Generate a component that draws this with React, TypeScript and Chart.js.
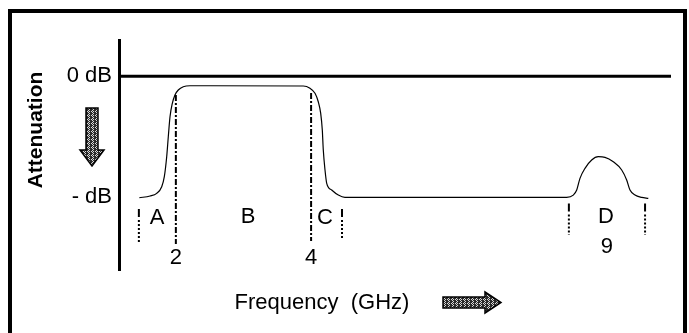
import React, { useEffect, useRef } from 'react';
import { Chart, registerables } from 'chart.js';

Chart.register(...registerables);

// Schematic frequency position (0–100 across the plot) and attenuation (0 dB = 0, "- dB" = -10)
const curveX = [3.68, 5.62, 6.83, 7.74, 8.21, 8.64, 8.93, 9.24, 9.66, 10.14, 10.74, 11.65, 12.86, 33.39, 34.6, 35.51, 36.1, 36.54, 36.83, 37.01, 37.32, 37.63, 38.53, 39.73, 40.94, 81.1, 82.3, 82.92, 83.51, 84.42, 85.63, 86.83, 88.04, 89.55, 91.07, 91.97, 92.57, 93.48, 94.69, 95.89];
const curveY = [-10.03, -9.89, -9.67, -9.12, -8.29, -6.64, -4.99, -3.34, -2.23, -1.54, -1.13, -0.86, -0.78, -0.8, -0.99, -1.4, -2.1, -3.06, -4.44, -6.09, -7.74, -8.84, -9.39, -9.81, -10.0, -10.0, -9.81, -9.39, -8.43, -7.6, -6.91, -6.64, -6.69, -7.06, -7.74, -8.57, -9.39, -9.81, -10.0, -10.08];

// 0 dB reference line
const refLineX = [0, 100];
const refLineY = [0, 0];

// y tick labels
const yTickValues = [0, -10];
const yTickLabels = ['0 dB', '- dB'];

// vertical band markers
const markerX = [3.6, 10.3, 34.8, 40.4, 81.5, 95.3];
const markerTop = [-10.96, -1.54, -1.38, -10.96, -10.5, -10.5];
const markerBottom = [-13.69, -13.85, -13.6, -13.5, -13.1, -13.1];
const markerStyle = ['dot', 'dashdot', 'dashdot', 'dot', 'dot', 'dot'];

// band labels
const regionLabels = ['A', 'B', 'C', 'D'];
const regionX = [6.9, 23.4, 37.3, 88.2];
const regionY = [-11.7, -11.62, -11.7, -11.62];

// frequency labels (GHz)
const freqLabels = ['2', '4', '9'];
const freqX = [10.3, 34.8, 88.4];
const freqY = [-15.0, -15.0, -14.1];

const FONT = '"Liberation Sans", Arial, sans-serif';

function makePattern(ctx: CanvasRenderingContext2D) {
  const c = document.createElement('canvas');
  c.width = 4;
  c.height = 4;
  const p = c.getContext('2d')!;
  p.fillStyle = '#2a2a2a';
  p.fillRect(0, 0, 4, 4);
  p.fillStyle = '#d8d8d8';
  [[0, 0], [2, 0], [1, 1], [3, 1], [0, 2], [2, 2], [1, 3], [3, 3]].forEach(([a, b], i) => {
    if (i % 2 === 0) p.fillRect(a, b, 1, 1);
  });
  p.fillRect(1, 1, 1, 1);
  p.fillRect(3, 3, 1, 1);
  return ctx.createPattern(c, 'repeat');
}

const decor = {
  id: 'decor',
  afterDatasetsDraw(chart: any) {
    const { ctx, scales } = chart;
    const x = scales.x;
    const y = scales.y;
    ctx.save();
    ctx.fillStyle = '#000';
    ctx.textAlign = 'center';
    ctx.textBaseline = 'middle';
    ctx.font = `22px ${FONT}`;
    regionLabels.forEach((t, i) => {
      ctx.fillText(t, x.getPixelForValue(regionX[i]), y.getPixelForValue(regionY[i]));
    });
    freqLabels.forEach((t, i) => {
      ctx.fillText(t, x.getPixelForValue(freqX[i]), y.getPixelForValue(freqY[i]));
    });
    ctx.fillText('Frequency  (GHz)', 322, 303);

    ctx.save();
    ctx.translate(36, 130);
    ctx.rotate(-Math.PI / 2);
    ctx.font = `bold 21px ${FONT}`;
    ctx.fillText('Attenuation', 0, 0);
    ctx.restore();

    const pat = makePattern(ctx);
    ctx.lineWidth = 1.5;
    ctx.strokeStyle = '#000';
    ctx.lineJoin = 'miter';
    // down arrow
    ctx.beginPath();
    ctx.moveTo(86, 108);
    ctx.lineTo(98, 108);
    ctx.lineTo(98, 150);
    ctx.lineTo(104, 150);
    ctx.lineTo(92, 166);
    ctx.lineTo(80, 150);
    ctx.lineTo(86, 150);
    ctx.closePath();
    ctx.fillStyle = pat;
    ctx.fill();
    ctx.stroke();
    // right arrow
    ctx.beginPath();
    ctx.moveTo(443, 297);
    ctx.lineTo(485, 297);
    ctx.lineTo(485, 292);
    ctx.lineTo(501, 302.5);
    ctx.lineTo(485, 313);
    ctx.lineTo(485, 308);
    ctx.lineTo(443, 308);
    ctx.closePath();
    ctx.fill();
    ctx.stroke();
    ctx.restore();
  },
};

export default function App() {
  const ref = useRef<HTMLCanvasElement>(null);
  useEffect(() => {
    const markerSets = markerX.map((mx, i) => ({
      data: [
        { x: mx, y: markerTop[i] },
        { x: mx, y: markerBottom[i] },
      ],
      borderColor: '#000',
      borderWidth: 2,
      borderDash: markerStyle[i] === 'dashdot' ? [6, 2, 2, 2] : [8, 3, 2, 2, 2, 2, 2, 2, 2, 2, 2, 2, 2, 2],
      pointRadius: 0,
      tension: 0,
    }));
    const chart = new Chart(ref.current!, {
      type: 'line',
      data: {
        datasets: [
          {
            data: refLineX.map((v, i) => ({ x: v, y: refLineY[i] })),
            borderColor: '#000',
            borderWidth: 3,
            pointRadius: 0,
          },
          {
            data: curveX.map((v, i) => ({ x: v, y: curveY[i] })),
            borderColor: '#000',
            borderWidth: 1.2,
            pointRadius: 0,
            cubicInterpolationMode: 'monotone',
          },
          ...markerSets,
        ] as any,
      },
      options: {
        animation: false,
        responsive: false,
        events: [],
        layout: { padding: { left: 0, right: 18, top: 40, bottom: 63 } },
        plugins: { legend: { display: false }, tooltip: { enabled: false } },
        scales: {
          x: { type: 'linear', min: 0, max: 100, display: false },
          y: {
            type: 'linear',
            min: -16,
            max: 3,
            afterFit: (s: any) => {
              s.width = 119;
            },
            afterBuildTicks: (s: any) => {
              s.ticks = yTickValues.map((v) => ({ value: v }));
            },
            ticks: {
              callback: (_v: any, i: number) => yTickLabels[i],
              font: { size: 22, family: FONT },
              color: '#000',
              padding: 7,
              autoSkip: false,
            },
            grid: { display: false, drawTicks: false },
            border: { display: true, width: 3, color: '#000' },
          },
        },
      },
      plugins: [decor],
    });
    return () => chart.destroy();
  }, []);
  return (
    <div style={{ position: 'absolute', left: 0, top: 0, width: 689, height: 333, overflow: 'hidden', background: '#fff' }}>
      <div
        style={{
          position: 'absolute',
          left: 8,
          top: 9,
          width: 679,
          height: 324,
          borderStyle: 'solid',
          borderColor: '#000',
          borderWidth: '4px 4px 0 4px',
          boxSizing: 'border-box',
        }}
      />
      <canvas ref={ref} width={689} height={333} style={{ position: 'absolute', left: 0, top: 0, width: 689, height: 333 }} />
    </div>
  );
}
